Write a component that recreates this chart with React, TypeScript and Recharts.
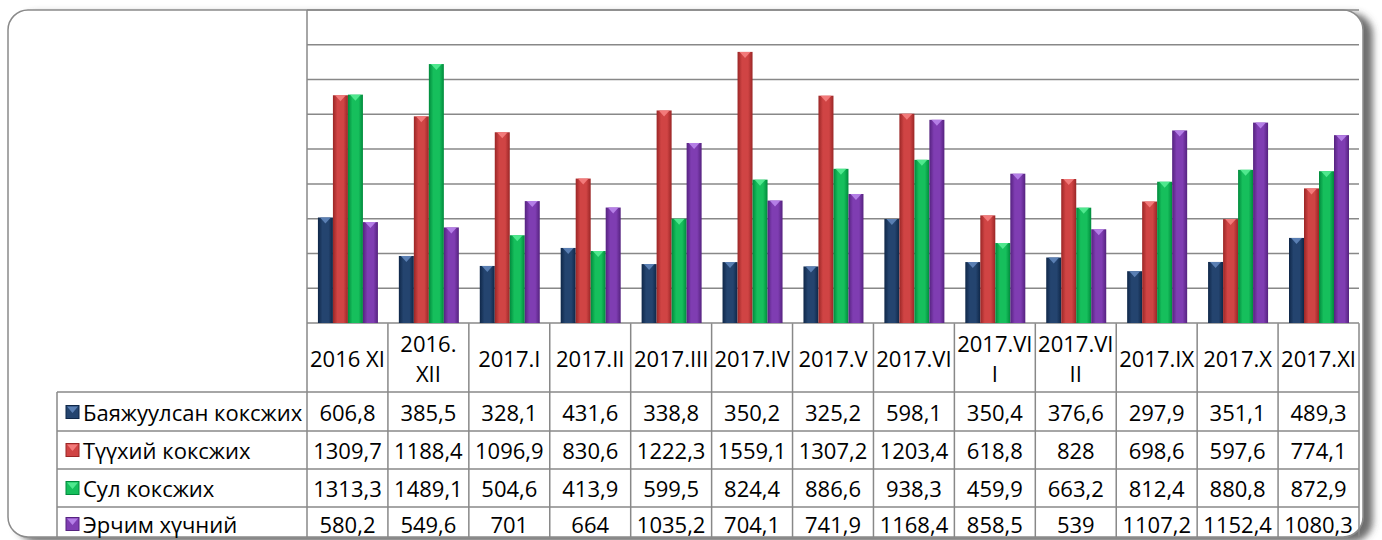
import React from "react";
import { BarChart, Bar, XAxis, YAxis, CartesianGrid } from "recharts";

const categories = [
  "2016 XI", "2016.XII", "2017.I", "2017.II", "2017.III", "2017.IV", "2017.V",
  "2017.VI", "2017.VII", "2017.VIII", "2017.IX", "2017.X", "2017.XI",
];
const tickLabels: string[][] = [
  ["2016 XI"], ["2016.", "XII"], ["2017.I"], ["2017.II"], ["2017.III"], ["2017.IV"], ["2017.V"],
  ["2017.VI"], ["2017.VI", "I"], ["2017.VI", "II"], ["2017.IX"], ["2017.X"], ["2017.XI"],
];
const seriesNames = ["Баяжуулсан коксжих", "Түүхий коксжих", "Сул коксжих", "Эрчим хүчний"];
const enriched = [606.8, 385.5, 328.1, 431.6, 338.8, 350.2, 325.2, 598.1, 350.4, 376.6, 297.9, 351.1, 489.3];
const raw = [1309.7, 1188.4, 1096.9, 830.6, 1222.3, 1559.1, 1307.2, 1203.4, 618.8, 828, 698.6, 597.6, 774.1];
const loose = [1313.3, 1489.1, 504.6, 413.9, 599.5, 824.4, 886.6, 938.3, 459.9, 663.2, 812.4, 880.8, 872.9];
const energy = [580.2, 549.6, 701, 664, 1035.2, 704.1, 741.9, 1168.4, 858.5, 539, 1107.2, 1152.4, 1080.3];
const yTicks = [0, 200, 400, 600, 800, 1000, 1200, 1400, 1600, 1800];

const seriesValues = [enriched, raw, loose, energy];
const keys = ["s0", "s1", "s2", "s3"];
const data = categories.map((c, i) => ({
  cat: c,
  s0: enriched[i],
  s1: raw[i],
  s2: loose[i],
  s3: energy[i],
}));

const palette = [
  { edge: "#0f2748", mid: "#24446f", tri: "#5a7fb3" },
  { edge: "#9a2626", mid: "#d04444", tri: "#f27a7a" },
  { edge: "#008a3c", mid: "#16bf5c", tri: "#4fe88e" },
  { edge: "#55227f", mid: "#7f3db2", tri: "#b47ee6" },
];

const W = 1382;
const H = 540;
const LEFT = 306;
const YW = 1;
const RIGHT = 23;
const TOP = 10;
const AXIS_H = 217;
const colW = (W - LEFT - YW - RIGHT) / categories.length;
const gridColor = "#888888";
const FONT = "'Open Sans', 'Noto Sans', sans-serif";
const FS = 22;

// table row layout
const headerTop = 323.3;
const headerBottom = 392;
const rowLines = [392, 431, 469, 507];
const rowCenters = [412, 450, 488, 524];
const tableBottom = 537;

const fmt = (v: number) => String(v).replace(".", ",");

function BevelBar(props: any) {
  const { x, y, width, height, idx } = props;
  if (!height || height <= 0) return null;
  const c = palette[idx];
  const id = `bevel-${idx}`;
  const tw = width * 0.72;
  const th = Math.min(6, height);
  return (
    <g>
      <defs>
        <linearGradient id={id} x1="0" y1="0" x2="1" y2="0">
          <stop offset="0%" stopColor={c.edge} />
          <stop offset="30%" stopColor={c.mid} />
          <stop offset="70%" stopColor={c.mid} />
          <stop offset="100%" stopColor={c.edge} />
        </linearGradient>
      </defs>
      <rect x={x} y={y} width={width} height={height} fill={`url(#${id})`} />
      <polygon
        points={`${x + (width - tw) / 2},${y} ${x + (width + tw) / 2},${y} ${x + width / 2},${y + th}`}
        fill={c.tri}
      />
    </g>
  );
}

function NullTick() {
  return <g />;
}

function TableTick(props: any) {
  const { x, index } = props;
  const l = x - colW / 2;
  const r = x + colW / 2;
  const lines = tickLabels[index] || [categories[index]];
  const headerMid = (headerTop + headerBottom) / 2;
  return (
    <g>
      {index === 0 && (
        <line x1={l} y1={TOP} x2={l} y2={tableBottom} stroke={gridColor} strokeWidth={1.5} />
      )}
      <line x1={r} y1={headerTop} x2={r} y2={tableBottom} stroke={gridColor} strokeWidth={1.5} />
      {rowLines.map((yy) => (
        <line key={yy} x1={l} y1={yy} x2={r} y2={yy} stroke={gridColor} strokeWidth={1.5} />
      ))}
      {lines.length === 1 ? (
        <text x={x} y={headerMid} textAnchor="middle" dominantBaseline="central" fontSize={FS} fontFamily={FONT} fill="#000">
          {lines[0]}
        </text>
      ) : (
        lines.map((t, k) => (
          <text key={k} x={x} y={headerMid - 15 + k * 30} textAnchor="middle" dominantBaseline="central" fontSize={FS} fontFamily={FONT} fill="#000">
            {t}
          </text>
        ))
      )}
      {seriesValues.map((vals, s) => (
        <text key={s} x={x} y={rowCenters[s]} textAnchor="middle" dominantBaseline="central" fontSize={FS} fontFamily={FONT} fill="#000">
          {fmt(vals[index])}
        </text>
      ))}
    </g>
  );
}

function LegendKey({ x, y, idx }: { x: number; y: number; idx: number }) {
  const c = palette[idx];
  const s = 13;
  return (
    <g>
      <rect x={x} y={y - s / 2} width={s} height={s} fill={c.mid} stroke={c.edge} strokeWidth={1} />
      <polygon points={`${x + 1},${y - s / 2 + 1} ${x + s - 1},${y - s / 2 + 1} ${x + s / 2},${y + 1}`} fill={c.tri} />
    </g>
  );
}

export default function App() {
  return (
    <div style={{ position: "absolute", left: 0, top: 0, width: W, height: H, background: "#fff", overflow: "hidden" }}>
      <svg width={W} height={H} style={{ position: "absolute", left: 0, top: 0 }}>
        <defs>
          <filter id="frameShadow" x="-5%" y="-5%" width="110%" height="115%">
            <feDropShadow dx="9" dy="4" stdDeviation="3.5" floodColor="#4a4a4a" floodOpacity="0.8" />
          </filter>
        </defs>
        <rect x={8} y={10} width={1355} height={527} rx={20} ry={20} fill="#fff" stroke="#8a8a8a" strokeWidth={1.5} filter="url(#frameShadow)" />
      </svg>
      <div style={{ position: "absolute", left: 0, top: 0 }}>
        <BarChart
          width={W}
          height={H}
          data={data}
          margin={{ top: TOP, right: RIGHT, bottom: 0, left: LEFT }}
          barCategoryGap="13.5%"
          barGap={0}
        >
          <CartesianGrid vertical={false} stroke={gridColor} strokeWidth={1.5} />
          <XAxis
            dataKey="cat"
            height={AXIS_H}
            axisLine={false}
            tickLine={false}
            interval={0}
            tick={<TableTick />}
          />
          <YAxis
            width={YW}
            domain={[0, 1800]}
            ticks={yTicks}
            interval={0}
            tick={<NullTick />}
            tickLine={false}
            axisLine={false}
          />
          {keys.map((k, i) => (
            <Bar
              key={k}
              dataKey={k}
              name={seriesNames[i]}
              fill={palette[i].mid}
              isAnimationActive={false}
              shape={(p: any) => <BevelBar {...p} idx={i} />}
            />
          ))}
        </BarChart>
      </div>
      <svg width={W} height={H} style={{ position: "absolute", left: 0, top: 0, pointerEvents: "none" }}>
        {rowLines.map((yy) => (
          <line key={yy} x1={57} y1={yy} x2={LEFT + YW} y2={yy} stroke={gridColor} strokeWidth={1.5} />
        ))}
        <line x1={57} y1={rowLines[0]} x2={57} y2={tableBottom} stroke={gridColor} strokeWidth={1.5} />
        {seriesNames.map((n, i) => (
          <g key={n}>
            <LegendKey x={66} y={rowCenters[i]} idx={i} />
            <text x={83} y={rowCenters[i]} dominantBaseline="central" fontSize={FS} fontFamily={FONT} fill="#000">
              {n}
            </text>
          </g>
        ))}
      </svg>
    </div>
  );
}
